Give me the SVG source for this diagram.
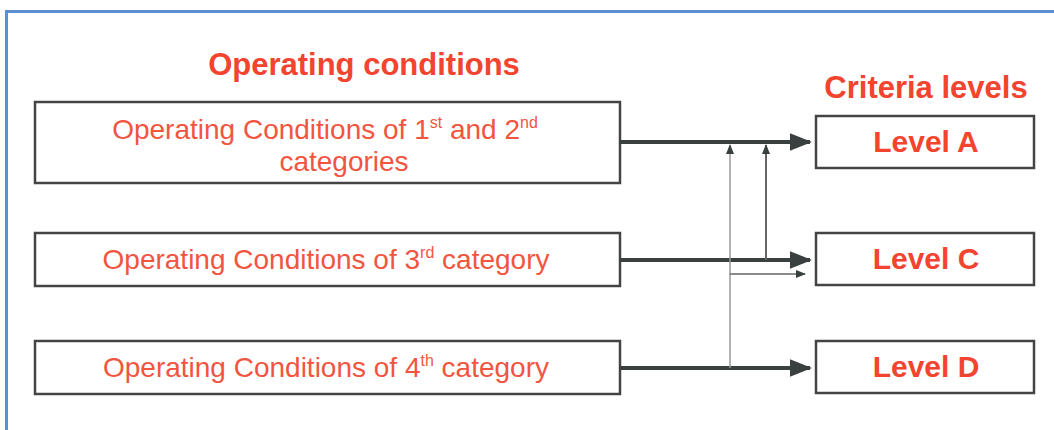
<svg xmlns="http://www.w3.org/2000/svg" width="1054" height="430" viewBox="0 0 1054 430">
<style>
.box{fill:#fff;stroke:#444;stroke-width:2.5}
.t{font-family:"Liberation Sans",Arial,sans-serif;fill:#f2553f;font-size:28px;text-anchor:middle}
.h{font-family:"Liberation Sans",Arial,sans-serif;fill:#f2442e;font-size:31px;font-weight:bold;text-anchor:middle}
.l{font-family:"Liberation Sans",Arial,sans-serif;fill:#f2442e;font-size:30px;font-weight:bold;text-anchor:middle}
.main{stroke:#3a3f3f;stroke-width:4;fill:none}
</style>
<defs>
<marker id="ah" markerWidth="6" markerHeight="6" refX="5" refY="3" orient="auto" markerUnits="strokeWidth"><path d="M0,0.8 L5.5,3 L0,5.2z" fill="#3a3f3f"/></marker>
<marker id="ahs" markerWidth="10" markerHeight="10" refX="9" refY="5" orient="auto" markerUnits="userSpaceOnUse"><path d="M0,1 L10,5 L0,9z" fill="#3a3f3f"/></marker>
</defs>
<rect x="0" y="0" width="1054" height="430" fill="#fff"/>
<path d="M6.5,440 V11.5 H1060" fill="none" stroke="#5b8fd0" stroke-width="3"/>
<text class="h" x="364" y="75">Operating conditions</text>
<text class="h" x="926" y="98">Criteria levels</text>
<g id="oc12"><rect class="box" x="35" y="102" width="585" height="81"/>
<text class="t" x="325" y="139">Operating Conditions of 1<tspan font-size="16" dy="-11">st</tspan><tspan dy="11"> and 2</tspan><tspan font-size="16" dy="-11">nd</tspan></text>
<text class="t" x="344" y="171">categories</text></g>
<g id="oc3"><rect class="box" x="35" y="233" width="585" height="53"/>
<text class="t" x="326" y="269">Operating Conditions of 3<tspan font-size="16" dy="-11">rd</tspan><tspan dy="11"> category</tspan></text></g>
<g id="oc4"><rect class="box" x="35" y="341" width="585" height="53"/>
<text class="t" x="326" y="377">Operating Conditions of 4<tspan font-size="16" dy="-11">th</tspan><tspan dy="11"> category</tspan></text></g>
<g id="la"><rect class="box" x="816" y="116" width="218" height="52"/><text class="l" x="926" y="152">Level A</text></g>
<g id="lc"><rect class="box" x="816" y="233" width="218" height="52"/><text class="l" x="926" y="269">Level C</text></g>
<g id="ld"><rect class="box" x="816" y="341" width="218" height="52"/><text class="l" x="926" y="377">Level D</text></g>
<g id="connectors">
<line class="main" x1="620" y1="142" x2="810" y2="142" marker-end="url(#ah)"/>
<line class="main" x1="620" y1="260" x2="810" y2="260" marker-end="url(#ah)"/>
<line class="main" x1="620" y1="368" x2="810" y2="368" marker-end="url(#ah)"/>
<line x1="730" y1="368" x2="730" y2="145" stroke="#999" stroke-width="1.5" marker-end="url(#ahs)"/>
<line x1="766" y1="260" x2="766" y2="145" stroke="#666" stroke-width="2" marker-end="url(#ahs)"/>
<line x1="730" y1="274" x2="805" y2="274" stroke="#666" stroke-width="1.5" marker-end="url(#ahs)"/>
</g>
</svg>
